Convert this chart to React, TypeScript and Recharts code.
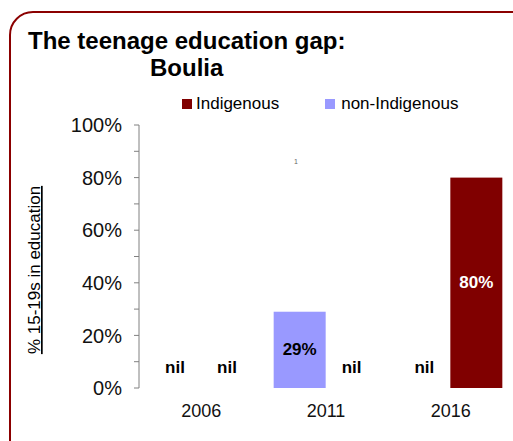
import { BarChart, Bar, XAxis, YAxis, LabelList } from 'recharts'

// census years
const years = ['2006', '2011', '2016']
// % of 15-19 year olds in education (0 = nil)
const indigenous = [0, 0, 80]
const nonIndigenous = [0, 29, 0]
const yTicks = [0, 10, 20, 30, 40, 50, 60, 70, 80, 90, 100]

const MAROON = '#800000'
const BLUE = '#9999FF'
const FONT = 'Liberation Sans, Arial, sans-serif'

const data = years.map((year, i) => ({
    year,
    nonIndigenous: nonIndigenous[i],
    indigenous: indigenous[i],
}))

// zero bars get a 1px min size so their label still renders, but draw nothing
const makeShape = (color: string) => (props: any) => {
    const { x, y, width, height, value } = props
    const v = Array.isArray(value) ? value[1] - value[0] : value
    if (!v) return <g />
    return <rect x={x} y={y} width={width} height={height} fill={color} />
}

const makeLabel = (textColor: string) => (props: any) => {
    const { x, y, width, height, value } = props
    const cx = x + width / 2
    if (!value) {
        return (
            <text x={cx} y={y + height - 21} textAnchor="middle" dominantBaseline="central"
                fontFamily={FONT} fontWeight="bold" fontSize={17} fill="#000">
                nil
            </text>
        )
    }
    return (
        <text x={cx} y={y + height / 2} textAnchor="middle" dominantBaseline="central"
            fontFamily={FONT} fontWeight="bold" fontSize={17} fill={textColor}>
            {value}%
        </text>
    )
}

const YLabel = () => (
    <text x={40} y={270} transform="rotate(-90 40 270)" textAnchor="middle"
        fontFamily={FONT} fontSize={17} fill="#000" style={{ textDecoration: 'underline' }}>
        % 15-19s in education
    </text>
)

const App = () => {
    return (
        <div style={{ position: 'absolute', left: 0, top: 0, width: 513, height: 441, overflow: 'hidden', background: '#fff', fontFamily: FONT }}>
            <div style={{
                position: 'absolute', left: 9, top: 11, width: 530, height: 460,
                border: '2px solid #8B0000', borderRadius: 24, boxSizing: 'border-box',
            }} />
            <div style={{ position: 'absolute', left: 28, top: 27, fontSize: 24, fontWeight: 'bold', lineHeight: '28px', color: '#000' }}>
                The teenage education gap:
            </div>
            <div style={{ position: 'absolute', left: 150, top: 54, fontSize: 24, fontWeight: 'bold', lineHeight: '28px', color: '#000' }}>
                Boulia
            </div>
            <div style={{ position: 'absolute', left: 182, top: 94, fontSize: 17, lineHeight: '20px', color: '#000', display: 'flex', alignItems: 'center' }}>
                <span style={{ width: 10, height: 10, background: MAROON, display: 'inline-block', marginRight: 4 }} />
                <span>Indigenous</span>
                <span style={{ width: 10, height: 10, background: BLUE, display: 'inline-block', marginLeft: 46, marginRight: 6 }} />
                <span>non-Indigenous</span>
            </div>
            <div style={{ position: 'absolute', left: 294, top: 158, fontSize: 7, color: '#666', fontFamily: FONT }}>1</div>
            <BarChart
                width={513}
                height={441}
                data={data}
                barCategoryGap={10}
                barGap={0}
                margin={{ top: 125, right: 0, bottom: 0, left: 0 }}
                style={{ position: 'absolute', left: 0, top: 0 }}
            >
                <XAxis dataKey="year" axisLine={false} tickLine={false} tickSize={0} tickMargin={16} height={53}
                    tick={{ fontFamily: FONT, fontSize: 18, fill: '#111' }} />
                <YAxis domain={[0, 100]} ticks={yTicks} interval={0} width={139} tickSize={5} tickMargin={12}
                    axisLine={{ stroke: '#808080' }} tickLine={{ stroke: '#808080' }}
                    tickFormatter={(v: number) => (v % 20 === 0 ? `${v}%` : '')}
                    tick={{ fontFamily: FONT, fontSize: 20, fill: '#111' }} />
                <Bar dataKey="nonIndigenous" fill={BLUE} minPointSize={1} shape={makeShape(BLUE)} isAnimationActive={false}>
                    <LabelList dataKey="nonIndigenous" content={makeLabel('#000')} />
                </Bar>
                <Bar dataKey="indigenous" fill={MAROON} minPointSize={1} shape={makeShape(MAROON)} isAnimationActive={false}>
                    <LabelList dataKey="indigenous" content={makeLabel('#fff')} />
                </Bar>
            </BarChart>
            <svg width={513} height={441} style={{ position: 'absolute', left: 0, top: 0, pointerEvents: 'none' }}>
                <YLabel />
            </svg>
        </div>
    )
}

export default App
